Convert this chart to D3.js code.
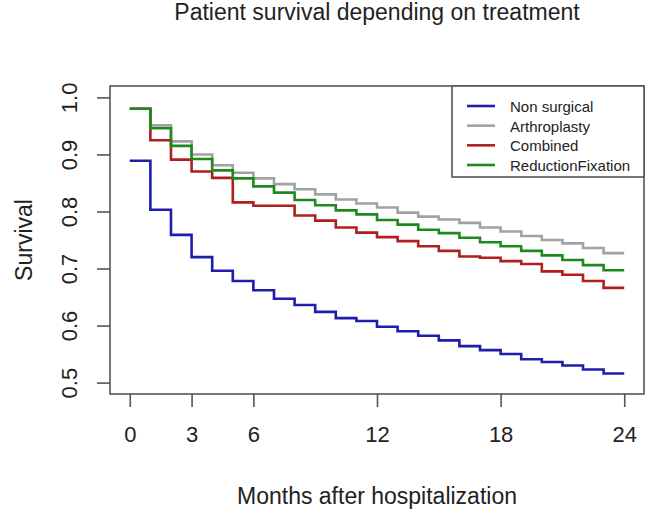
<!DOCTYPE html>
<html>
<head>
<meta charset="utf-8">
<script src="https://cdn.jsdelivr.net/npm/d3@7"></script>
<style>
  html, body { margin: 0; padding: 0; background: #fff; }
  svg text { font-family: "Liberation Sans", Arial, sans-serif; fill: #222; }
</style>
</head>
<body>
<svg id="chart" width="650" height="510"></svg>
<script>
// ---- data ----
const months = d3.range(0, 25); // 0..24
const seriesNames = ["Non surgical", "Arthroplasty", "Combined", "ReductionFixation"];
const seriesColors = ["#1e1eaa", "#a0a3a3", "#b01e1e", "#1e8a1e"];

// survival value on interval [m, m+1), m = 0..23
const nonSurgical = [0.889, 0.803, 0.759, 0.720, 0.696, 0.678, 0.662, 0.647, 0.636, 0.624, 0.613, 0.608,
                     0.598, 0.590, 0.582, 0.574, 0.564, 0.557, 0.550, 0.541, 0.536, 0.530, 0.523, 0.516];
const arthroplasty = [0.980, 0.951, 0.923, 0.900, 0.881, 0.868, 0.858, 0.848, 0.839, 0.830, 0.821, 0.814,
                      0.807, 0.798, 0.791, 0.786, 0.780, 0.772, 0.765, 0.757, 0.750, 0.744, 0.736, 0.727];
const combined = [0.980, 0.925, 0.891, 0.870, 0.859, 0.816, 0.810, 0.810, 0.793, 0.784, 0.772, 0.763,
                  0.755, 0.748, 0.739, 0.731, 0.721, 0.719, 0.713, 0.708, 0.695, 0.689, 0.678, 0.666];
const reductionFixation = [0.980, 0.946, 0.915, 0.892, 0.872, 0.858, 0.844, 0.833, 0.820, 0.811, 0.802, 0.795,
                           0.785, 0.777, 0.768, 0.762, 0.754, 0.746, 0.739, 0.731, 0.723, 0.715, 0.706, 0.697];
const seriesValues = [nonSurgical, arthroplasty, combined, reductionFixation];

const xTicks = [0, 3, 6, 12, 18, 24];
const yTicks = [0.5, 0.6, 0.7, 0.8, 0.9, 1.0];

const titleText = "Patient survival depending on treatment";
const xLabel = "Months after hospitalization";
const yLabel = "Survival";

// ---- layout ----
const svg = d3.select("#chart");
const box = { left: 110, right: 644, top: 86, bottom: 394 };

const x = d3.scaleLinear().domain([-0.96, 24.96]).range([box.left, box.right]);
const y = d3.scaleLinear().domain([0.48, 1.02]).range([box.bottom, box.top]);

// title
svg.append("text")
  .attr("x", (box.left + box.right) / 2)
  .attr("y", 20)
  .attr("text-anchor", "middle")
  .style("font-size", "23px")
  .text(titleText);

// frame
svg.append("rect")
  .attr("x", box.left).attr("y", box.top)
  .attr("width", box.right - box.left).attr("height", box.bottom - box.top)
  .attr("fill", "none").attr("stroke", "#555").attr("stroke-width", 1.6);

// x axis
const xAxis = d3.axisBottom(x).tickValues(xTicks).tickSize(13).tickPadding(19)
  .tickFormat(d3.format("d"));
const gx = svg.append("g").attr("transform", `translate(0,${box.bottom})`).call(xAxis);
gx.select(".domain").remove();
gx.selectAll(".tick line").attr("stroke", "#555").attr("stroke-width", 1.6);
gx.selectAll(".tick text").style("font-size", "22px").attr("fill", "#222")
  .style("font-family", '"Liberation Sans", Arial, sans-serif');

// y axis
const yAxis = d3.axisLeft(y).tickValues(yTicks).tickSize(13).tickPadding(0)
  .tickFormat(d3.format(".1f"));
const gy = svg.append("g").attr("transform", `translate(${box.left},0)`).call(yAxis);
gy.select(".domain").remove();
gy.selectAll(".tick line").attr("stroke", "#555").attr("stroke-width", 1.6);
gy.selectAll(".tick text")
  .attr("x", null).attr("dy", null)
  .attr("text-anchor", "middle")
  .attr("transform", "translate(-33,0) rotate(-90)")
  .style("font-size", "22px").attr("fill", "#222")
  .style("font-family", '"Liberation Sans", Arial, sans-serif');

// axis labels
svg.append("text")
  .attr("x", (box.left + box.right) / 2)
  .attr("y", 504)
  .attr("text-anchor", "middle")
  .style("font-size", "23px")
  .text(xLabel);

svg.append("text")
  .attr("transform", `translate(32,${(box.top + box.bottom) / 2}) rotate(-90)`)
  .attr("text-anchor", "middle")
  .style("font-size", "23px")
  .text(yLabel);

// survival step lines
const line = d3.line()
  .x(d => x(d.m))
  .y(d => y(d.v))
  .curve(d3.curveStepAfter);

seriesValues.forEach((vals, i) => {
  const pts = months.map(m => ({ m, v: vals[Math.min(m, vals.length - 1)] }));
  svg.append("path")
    .datum(pts)
    .attr("d", line)
    .attr("fill", "none")
    .attr("stroke", seriesColors[i])
    .attr("stroke-width", 2.6);
});

// legend
const lg = { left: 452, top: 86, right: 644, bottom: 177 };
svg.append("rect")
  .attr("x", lg.left).attr("y", lg.top)
  .attr("width", lg.right - lg.left).attr("height", lg.bottom - lg.top)
  .attr("fill", "#fff").attr("stroke", "#555").attr("stroke-width", 1.6);

const rowY = d3.scalePoint().domain(seriesNames).range([106, 165]);
seriesNames.forEach((name, i) => {
  svg.append("line")
    .attr("x1", 467).attr("x2", 495)
    .attr("y1", rowY(name)).attr("y2", rowY(name))
    .attr("stroke", seriesColors[i]).attr("stroke-width", 2.6);
  svg.append("text")
    .attr("x", 510).attr("y", rowY(name) + 6)
    .style("font-size", "15px")
    .text(name);
});
</script>
</body>
</html>
